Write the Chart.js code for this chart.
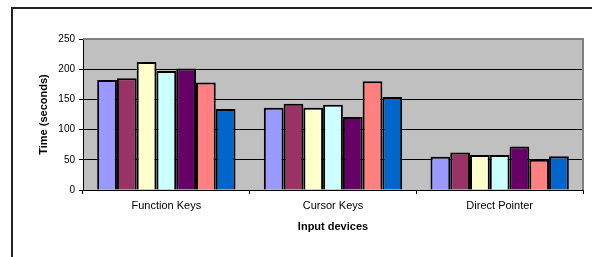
<!DOCTYPE html>
<html>
<head>
<meta charset="utf-8">
<script src="https://cdn.jsdelivr.net/npm/chart.js@4/dist/chart.umd.min.js"></script>
<style>
  html, body { margin: 0; padding: 0; background: #fff; }
  #wrap { position: absolute; left: 0; top: 0; width: 592px; height: 257px; }
</style>
</head>
<body>
<div id="wrap"><canvas id="c" width="592" height="257"></canvas></div>
<script>
const categories = ['Function Keys', 'Cursor Keys', 'Direct Pointer'];
const series1 = [182, 136, 55];
const series2 = [185, 143, 62];
const series3 = [212, 136, 58];
const series4 = [197, 141, 58];
const series5 = [201, 121, 72];
const series6 = [178, 180, 50];
const series7 = [134, 154, 56];
const seriesValues = [series1, series2, series3, series4, series5, series6, series7];
const seriesColors = ['#9999FF', '#993366', '#FFFFCC', '#CCFFFF', '#660066', '#FF8080', '#0066CC'];
const yTicks = [0, 50, 100, 150, 200, 250];
const yTitle = 'Time (seconds)';
const xTitle = 'Input devices';

const FONT = "'Liberation Sans', Arial, sans-serif";

const framePlugin = {
  id: 'frame',
  beforeDraw(chart) {
    const ctx = chart.ctx;
    const a = chart.chartArea;
    ctx.save();
    // outer frame
    ctx.strokeStyle = '#222';
    ctx.lineWidth = 2;
    ctx.beginPath();
    ctx.moveTo(12, 257);
    ctx.lineTo(12, 8);
    ctx.lineTo(592, 8);
    ctx.stroke();
    // plot background
    ctx.fillStyle = '#C0C0C0';
    ctx.fillRect(a.left, a.top, a.right - a.left, a.bottom - a.top);
    ctx.restore();
  },
  beforeDatasetsDraw(chart) {
    const ctx = chart.ctx;
    const a = chart.chartArea;
    ctx.save();
    ctx.strokeStyle = '#808080';
    ctx.lineWidth = 2;
    ctx.beginPath();
    ctx.moveTo(a.left, a.top);
    ctx.lineTo(a.right, a.top);
    ctx.lineTo(a.right, a.bottom);
    ctx.stroke();
    ctx.restore();
  }
};

new Chart(document.getElementById('c'), {
  type: 'bar',
  data: {
    labels: categories,
    datasets: seriesValues.map((vals, i) => ({
      label: 'Series ' + (i + 1),
      data: vals,
      backgroundColor: seriesColors[i],
      borderColor: '#000',
      borderWidth: 2,
      barPercentage: 1,
      categoryPercentage: 0.83
    }))
  },
  options: {
    responsive: false,
    animation: false,
    devicePixelRatio: 1,
    layout: { padding: { left: 0, top: 39, right: 9, bottom: 0 } },
    plugins: { legend: { display: false }, tooltip: { enabled: false } },
    scales: {
      x: {
        afterFit(scale) { scale.height = 67; },
        grid: {
          offset: true,
          drawOnChartArea: false,
          drawTicks: true,
          tickLength: 4,
          color: '#000',
          tickColor: '#000'
        },
        border: { display: true, color: '#000', width: 1 },
        ticks: {
          color: '#000',
          font: { family: FONT, size: 11 },
          padding: 5,
          maxRotation: 0
        },
        title: {
          display: true,
          text: xTitle,
          color: '#000',
          font: { family: FONT, size: 11, weight: 'bold' },
          padding: { top: 0, bottom: 23 }
        }
      },
      y: {
        min: 0,
        max: 250,
        afterFit(scale) { scale.width = 83; },
        afterBuildTicks(scale) { scale.ticks = yTicks.map(v => ({ value: v })); },
        grid: {
          drawOnChartArea: true,
          drawTicks: true,
          tickLength: 4,
          color: (c) => (c.tick && c.tick.value === 250) ? 'rgba(0,0,0,0)' : '#000',
          tickColor: '#000',
          lineWidth: 1
        },
        border: { display: true, color: '#000', width: 1 },
        ticks: {
          color: '#000',
          font: { family: FONT, size: 10 },
          padding: 4
        },
        title: {
          display: true,
          text: yTitle,
          color: '#000',
          font: { family: FONT, size: 11, weight: 'bold' },
          padding: { top: 37, bottom: 0 }
        }
      }
    }
  },
  plugins: [framePlugin]
});
</script>
</body>
</html>
